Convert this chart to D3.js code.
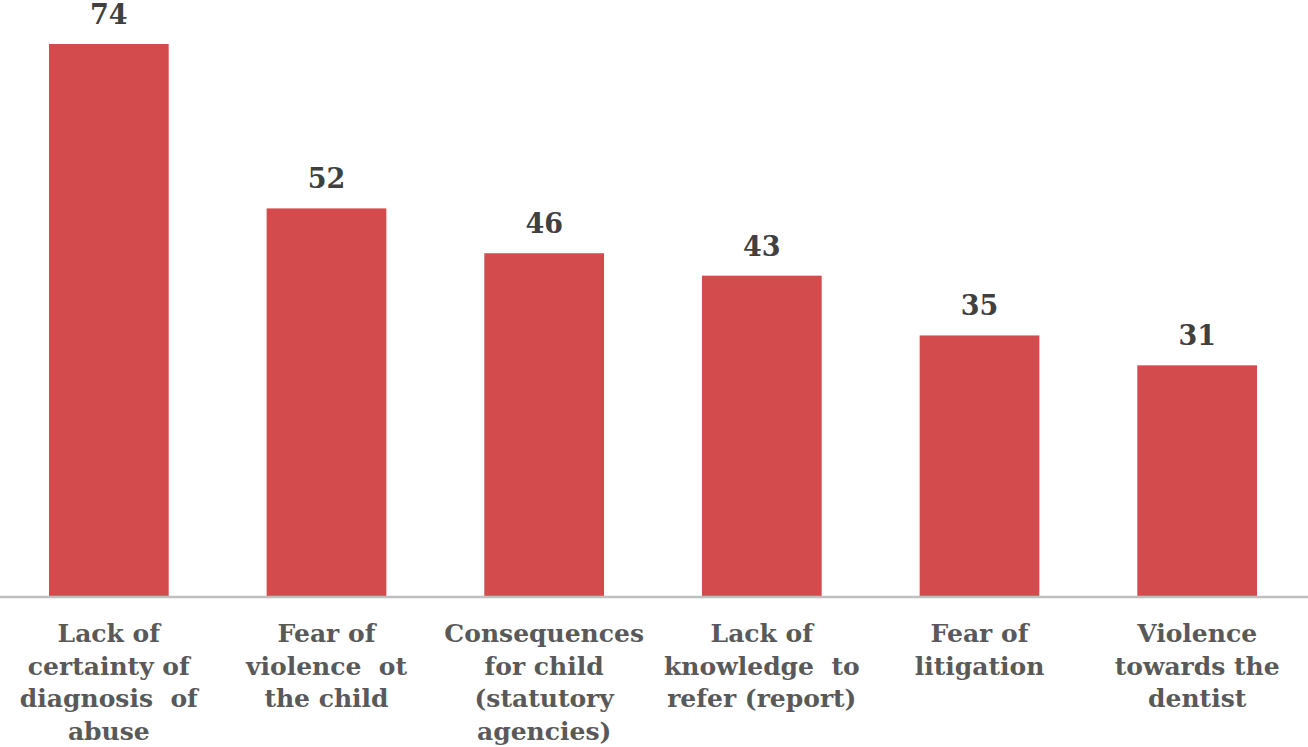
<!DOCTYPE html>
<html>
<head>
<meta charset="utf-8">
<script src="https://cdn.jsdelivr.net/npm/d3@7"></script>
<style>
  body { margin: 0; background: #fff; }
</style>
</head>
<body>
<div id="container"></div>
<script>
const categories = [
    ['Lack of', 'certainty of', 'diagnosis  of', 'abuse'],
    ['Fear of', 'violence  ot', 'the child'],
    ['Consequences', 'for child', '(statutory', 'agencies)'],
    ['Lack of', 'knowledge  to', 'refer (report)'],
    ['Fear of', 'litigation'],
    ['Violence', 'towards the', 'dentist']
];
const values = [74, 52, 46, 43, 35, 31];

const W = 1308, H = 747;
const baseY = 597;

const svg = d3.select('#container')
    .append('svg')
    .attr('width', W)
    .attr('height', H);

const x = d3.scaleBand()
    .domain(d3.range(values.length))
    .range([0, 1306])
    .paddingInner(0.45)
    .paddingOuter(0.225);

const y = d3.scaleLinear()
    .domain([0, 74])
    .range([baseY, 44]);

svg.append('g')
    .selectAll('rect')
    .data(values)
    .enter()
    .append('rect')
    .attr('x', (d, i) => x(i))
    .attr('y', d => y(d))
    .attr('width', x.bandwidth())
    .attr('height', d => baseY - y(d))
    .attr('fill', '#d34b4d');

svg.append('line')
    .attr('x1', 0)
    .attr('x2', W)
    .attr('y1', baseY)
    .attr('y2', baseY)
    .attr('stroke', '#bfbfbf')
    .attr('stroke-width', 2.5);

svg.append('g')
    .selectAll('text')
    .data(values)
    .enter()
    .append('text')
    .attr('x', (d, i) => x(i) + x.bandwidth() / 2)
    .attr('y', d => y(d) - 20)
    .attr('text-anchor', 'middle')
    .attr('font-family', 'DejaVu Serif')
    .attr('font-weight', 'bold')
    .attr('font-size', 27)
    .attr('fill', '#404040')
    .text(d => d);

const labels = svg.append('g')
    .selectAll('text')
    .data(categories)
    .enter()
    .append('text')
    .attr('text-anchor', 'middle')
    .attr('font-family', 'DejaVu Serif')
    .attr('font-weight', 'bold')
    .attr('font-size', 25)
    .attr('fill', '#595959')
    .style('white-space', 'pre');

labels.selectAll('tspan')
    .data((d, i) => d.map(line => ({ line, i })))
    .enter()
    .append('tspan')
    .attr('x', d => x(d.i) + x.bandwidth() / 2)
    .attr('y', (d, j) => 642 + j * 32.7)
    .text(d => d.line);
</script>
</body>
</html>
